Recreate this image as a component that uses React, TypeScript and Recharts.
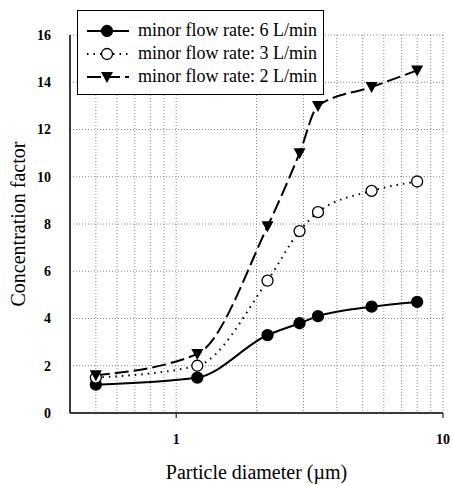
import { LineChart, Line, CartesianGrid, XAxis, YAxis, Legend } from 'recharts'

const sizes = [0.5, 1.2, 2.2, 2.9, 3.4, 5.4, 8.0]
const rate6 = [1.2, 1.5, 3.3, 3.8, 4.1, 4.5, 4.7]
const rate3 = [1.5, 2.0, 5.6, 7.7, 8.5, 9.4, 9.8]
const rate2 = [1.6, 2.5, 7.9, 11.0, 13.0, 13.8, 14.5]
const xTicks = [0.5, 0.6, 0.7, 0.8, 0.9, 1, 2, 3, 4, 5, 6, 7, 8, 9, 10]
const xLabels = [1, 10]
const yTicks = [0, 2, 4, 6, 8, 10, 12, 14, 16]

const serif = '"Liberation Serif", "Times New Roman", serif'

const toPoints = (vals: number[]) => sizes.map((x, i) => ({ x, y: vals[i] }))

type Marker = 'filled' | 'open' | 'triangle'

const series = [
  { name: 'minor flow rate: 6 L/min', values: rate6, marker: 'filled' as Marker, dash: undefined as string | undefined },
  { name: 'minor flow rate: 3 L/min', values: rate3, marker: 'open' as Marker, dash: '1.5 5' },
  { name: 'minor flow rate: 2 L/min', values: rate2, marker: 'triangle' as Marker, dash: '14 5' },
]

const drawMarker = (kind: Marker, cx: number, cy: number, key?: string) => {
  if (kind === 'triangle') {
    return (
      <polygon
        key={key}
        points={`${cx - 6},${cy - 5} ${cx + 6},${cy - 5} ${cx},${cy + 6}`}
        fill='#000'
      />
    )
  }
  return (
    <circle
      key={key}
      cx={cx}
      cy={cy}
      r={5.5}
      fill={kind === 'open' ? '#fff' : '#000'}
      stroke='#000'
      strokeWidth={1.3}
    />
  )
}

const LegendBox = () => (
  <div
    style={{
      border: '1.5px solid #000',
      background: '#fff',
      padding: '8px 6px 6px 8px',
      fontFamily: serif,
      fontSize: 18,
      lineHeight: '23px',
      color: '#000',
    }}>
    {series.map(s => (
      <div
        key={s.name}
        style={{ display: 'flex', alignItems: 'center', whiteSpace: 'nowrap' }}>
        <svg
          width={44}
          height={14}
          style={{ marginRight: 8 }}>
          <line
            x1={1}
            y1={7}
            x2={43}
            y2={7}
            stroke='#000'
            strokeWidth={2}
            strokeDasharray={s.dash}
          />
          {drawMarker(s.marker, 21, 7)}
        </svg>
        {s.name}
      </div>
    ))}
  </div>
)

const XTick = (props: any) => {
  const { x, y, payload } = props
  if (!xLabels.includes(payload.value)) return <g />
  return (
    <g>
      <line
        x1={x}
        y1={y - 8}
        x2={x}
        y2={y - 3}
        stroke='#000'
      />
      <text
        x={x}
        y={y + 23}
        textAnchor='middle'
        fontFamily={serif}
        fontSize={14}
        fontWeight='bold'
        fill='#000'>
        {payload.value}
      </text>
    </g>
  )
}

const App = () => (
  <div style={{ position: 'absolute', top: 0, left: 0 }}>
    <LineChart
      width={453}
      height={485}
      margin={{ top: 35, right: 10, bottom: 4, left: 8 }}>
      <CartesianGrid
        stroke='#888'
        strokeDasharray='1 2'
      />
      <XAxis
        dataKey='x'
        type='number'
        scale='log'
        domain={[0.4, 10]}
        ticks={xTicks}
        allowDataOverflow
        height={68}
        axisLine={{ stroke: '#000', strokeWidth: 1.5 }}
        tickLine={false}
        tick={<XTick />}
        interval={0}
        label={{
          value: 'Particle diameter (\u00b5m)',
          position: 'insideBottom',
          offset: 2,
          style: { fontFamily: serif, fontSize: 20, fill: '#000' },
        }}
      />
      <XAxis
        xAxisId='top'
        orientation='top'
        type='number'
        dataKey='x'
        scale='log'
        domain={[0.4, 10]}
        allowDataOverflow
        height={0}
        tick={false}
        tickLine={false}
        axisLine={{ stroke: '#000', strokeWidth: 1.2 }}
      />
      <YAxis
        type='number'
        domain={[0, 16]}
        ticks={yTicks}
        width={62}
        axisLine={{ stroke: '#000', strokeWidth: 1.5 }}
        tickLine={false}
        tick={{ fontFamily: serif, fontSize: 14, fontWeight: 'bold', fill: '#000' }}
        tickMargin={13}
        label={{
          value: 'Concentration factor',
          angle: -90,
          position: 'center',
          dx: -21,
          style: { fontFamily: serif, fontSize: 20, fill: '#000', textAnchor: 'middle' },
        }}
      />
      <YAxis
        yAxisId='right'
        orientation='right'
        domain={[0, 16]}
        width={0}
        tick={false}
        tickLine={false}
        axisLine={{ stroke: '#000', strokeWidth: 1.2 }}
      />
      <Legend
        layout='horizontal'
        verticalAlign='middle'
        align='center'
        wrapperStyle={{ top: 10, left: 77, width: 'auto', height: 'auto' }}
        content={() => <LegendBox />}
      />
      {series.map(s => (
        <Line
          key={s.name}
          name={s.name}
          data={toPoints(s.values)}
          dataKey='y'
          type='monotone'
          stroke='#000'
          strokeWidth={2}
          strokeDasharray={s.dash}
          isAnimationActive={false}
          dot={(p: any) => drawMarker(s.marker, p.cx, p.cy, `${s.name}-${p.index}`)}
          activeDot={false}
        />
      ))}
    </LineChart>
  </div>
)

export default App
